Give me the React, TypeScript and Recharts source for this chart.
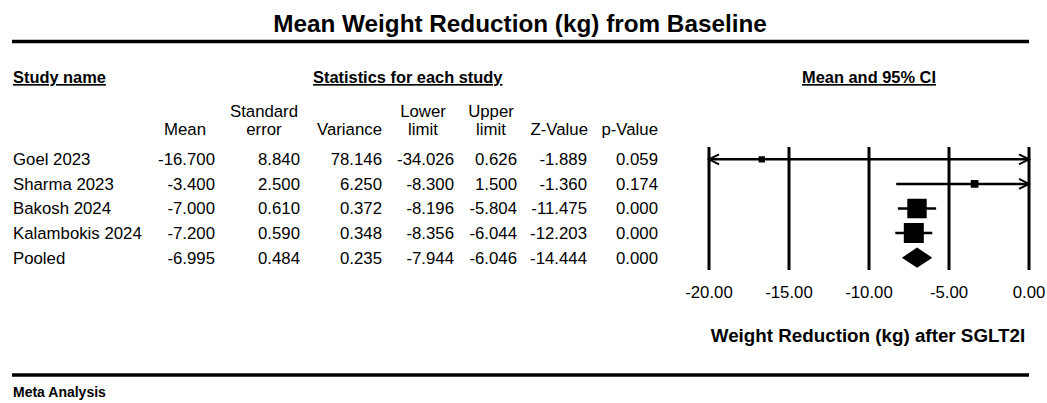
import React from "react";
import {
  ComposedChart,
  XAxis,
  YAxis,
  ZAxis,
  Scatter,
  CartesianGrid,
  ReferenceLine,
  ReferenceDot,
  ReferenceArea,
} from "recharts";

// ---------- data ----------
const studies = ["Goel 2023", "Sharma 2023", "Bakosh 2024", "Kalambokis 2024", "Pooled"];
const means = [-16.7, -3.4, -7.0, -7.2, -6.995];
const stdErrors = [8.84, 2.5, 0.61, 0.59, 0.484];
const variances = [78.146, 6.25, 0.372, 0.348, 0.235];
const lowerLimits = [-34.026, -8.3, -8.196, -8.356, -7.944];
const upperLimits = [0.626, 1.5, -5.804, -6.044, -6.046];
const zValues = [-1.889, -1.36, -11.475, -12.203, -14.444];
const pValues = [0.059, 0.174, 0.0, 0.0, 0.0];
const xTicks = [-20, -15, -10, -5, 0];

const TITLE = "Mean Weight Reduction (kg) from Baseline";
const X_LABEL = "Weight Reduction (kg) after SGLT2I";
const FOOTER = "Meta Analysis";

const X_MIN = xTicks[0];
const X_MAX = xTicks[xTicks.length - 1];

const rows = studies.map((study, i) => ({
  row: i + 1,
  study,
  mean: means[i],
  se: stdErrors[i],
  variance: variances[i],
  lo: lowerLimits[i],
  hi: upperLimits[i],
  z: zValues[i],
  p: pValues[i],
  weight: 1 / variances[i],
  pooled: i === studies.length - 1,
}));
const studyRows = rows.filter((r) => !r.pooled);
const pooledRow = rows[rows.length - 1];

// ---------- styling ----------
const FONT = "'Liberation Sans', Arial, Helvetica, sans-serif";
const TXT = 16.8;

// column layout: right edge of value cells and header positioning
const columns = [
  { key: "mean", right: 215, h1: "", h2: "Mean", hx: 206, anchor: "end" },
  { key: "se", right: 300, h1: "Standard", h2: "error", hx: 264, anchor: "middle" },
  { key: "variance", right: 382, h1: "", h2: "Variance", hx: 382, anchor: "end" },
  { key: "lo", right: 454, h1: "Lower", h2: "limit", hx: 423, anchor: "middle" },
  { key: "hi", right: 517, h1: "Upper", h2: "limit", hx: 491, anchor: "middle" },
  { key: "z", right: 587, h1: "", h2: "Z-Value", hx: 588, anchor: "end" },
  { key: "p", right: 658, h1: "", h2: "p-Value", hx: 658, anchor: "end" },
];

const RowTick = (props: any) => {
  const { y, payload } = props;
  const r = rows[payload.value - 1];
  if (!r) return null;
  return (
    <g fontFamily={FONT} fontSize={TXT} fill="#000">
      <text x={13} y={y} dy="0.355em" textAnchor="start">
        {r.study}
      </text>
      {columns.map((c) => (
        <text key={c.key} x={c.right} y={y} dy="0.355em" textAnchor="end">
          {(r as any)[c.key].toFixed(3)}
        </text>
      ))}
    </g>
  );
};

const Chevron = (dir: "left" | "right") => (props: any) => {
  const { cx, cy } = props;
  const s = dir === "left" ? 1 : -1;
  return (
    <path
      d={`M${cx + s * 10},${cy - 5} L${cx},${cy} L${cx + s * 10},${cy + 5}`}
      fill="none"
      stroke="#000"
      strokeWidth={2}
    />
  );
};

const Diamond = (props: any) => {
  const { x, y, width, height } = props;
  return (
    <polygon
      points={`${x},${y + height / 2} ${x + width / 2},${y} ${x + width},${y + height / 2} ${x + width / 2},${y + height}`}
      fill="#000"
    />
  );
};

const AxisTitle = (props: any) => {
  const vb = props.viewBox || {};
  return (
    <text
      x={vb.x + vb.width / 2 - 1}
      y={vb.y + 72}
      textAnchor="middle"
      fontFamily={FONT}
      fontWeight="bold"
      fontSize={18.8}
      fill="#000"
    >
      {X_LABEL}
    </text>
  );
};

export default function App() {
  return (
    <div
      style={{
        position: "absolute",
        left: 0,
        top: 0,
        width: 1047,
        height: 403,
        background: "#fff",
        overflow: "hidden",
      }}
    >
      <ComposedChart
        width={1047}
        height={403}
        data={rows}
        margin={{ top: 147, right: 18, bottom: 53, left: 0 }}
      >
        <CartesianGrid horizontal={false} vertical stroke="#000" strokeWidth={3} />
        <XAxis
          type="number"
          dataKey="mean"
          domain={[X_MIN, X_MAX]}
          ticks={xTicks}
          interval={0}
          allowDataOverflow
          tickFormatter={(v: number) => v.toFixed(2)}
          axisLine={false}
          tickLine={false}
          tickSize={8}
          tickMargin={8}
          height={80}
          tick={{ fontSize: TXT, fill: "#000", fontFamily: FONT }}
          label={<AxisTitle />}
        />
        <YAxis
          type="number"
          dataKey="row"
          domain={[0.5, rows.length + 0.5]}
          ticks={rows.map((r) => r.row)}
          interval={0}
          reversed
          width={709}
          axisLine={false}
          tickLine={false}
          tick={<RowTick />}
        />
        <ZAxis type="number" dataKey="weight" domain={["dataMin", "dataMax"]} range={[40, 400]} />

        {studyRows.map((r) => (
          <ReferenceLine
            key={`ci-${r.row}`}
            segment={[
              { x: Math.max(r.lo, X_MIN), y: r.row },
              { x: Math.min(r.hi, X_MAX), y: r.row },
            ]}
            stroke="#000"
            strokeWidth={2.5}
          />
        ))}
        {studyRows
          .filter((r) => r.lo < X_MIN)
          .map((r) => (
            <ReferenceDot key={`la-${r.row}`} x={X_MIN} y={r.row} r={1} shape={Chevron("left")} />
          ))}
        {studyRows
          .filter((r) => r.hi > X_MAX)
          .map((r) => (
            <ReferenceDot key={`ra-${r.row}`} x={X_MAX} y={r.row} r={1} shape={Chevron("right")} />
          ))}

        <Scatter data={studyRows} shape="square" fill="#000" isAnimationActive={false} />

        <ReferenceArea
          x1={pooledRow.lo}
          x2={pooledRow.hi}
          y1={pooledRow.row - 0.41}
          y2={pooledRow.row + 0.41}
          shape={<Diamond />}
        />
      </ComposedChart>

      <svg
        width={1047}
        height={403}
        style={{ position: "absolute", left: 0, top: 0, pointerEvents: "none" }}
        fontFamily={FONT}
        fill="#000"
      >
        <text x={520} y={31.5} textAnchor="middle" fontWeight="bold" fontSize={24.3}>
          {TITLE}
        </text>
        <line x1={12} x2={1029} y1={41.5} y2={41.5} stroke="#000" strokeWidth={3.5} />

        <g fontWeight="bold" fontSize={16.4} textDecoration="underline">
          <text x={13} y={83}>Study name</text>
          <text x={313} y={83}>Statistics for each study</text>
          <text x={869} y={83} textAnchor="middle">Mean and 95% CI</text>
        </g>

        <g fontSize={TXT}>
          {columns.map((c) => (
            <g key={c.key}>
              {c.h1 ? (
                <text x={c.hx} y={117} textAnchor={c.anchor as any}>
                  {c.h1}
                </text>
              ) : null}
              <text x={c.hx} y={135} textAnchor={c.anchor as any}>
                {c.h2}
              </text>
            </g>
          ))}
        </g>

        <line x1={12} x2={1029} y1={375} y2={375} stroke="#000" strokeWidth={3.5} />
        <text x={13} y={397} fontWeight="bold" fontSize={14}>
          {FOOTER}
        </text>
      </svg>
    </div>
  );
}
